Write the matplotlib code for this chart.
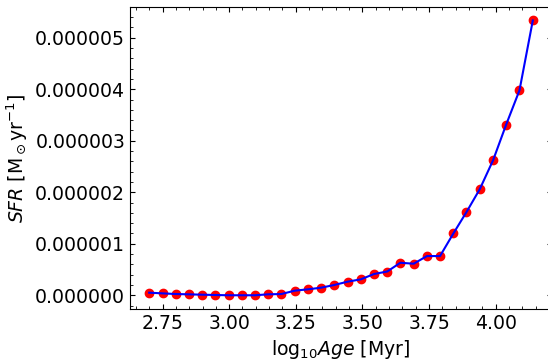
import matplotlib
matplotlib.use('Agg')
import matplotlib.pyplot as plt
from matplotlib.ticker import FormatStrFormatter, AutoMinorLocator

log_age = [2.700, 2.750, 2.799, 2.849, 2.898, 2.948, 2.998, 3.047, 3.097, 3.146,
           3.196, 3.246, 3.295, 3.345, 3.394, 3.444, 3.494, 3.543, 3.593, 3.642,
           3.692, 3.742, 3.791, 3.841, 3.890, 3.940, 3.990, 4.039, 4.089, 4.139]
sfr_e6 = [0.051, 0.038, 0.025, 0.019, 0.012, 0.006, 0.001, 0.001, 0.001, 0.019,
          0.025, 0.090, 0.116, 0.148, 0.200, 0.264, 0.310, 0.413, 0.462, 0.632,
          0.613, 0.762, 0.762, 1.201, 1.614, 2.060, 2.622, 3.313, 3.979, 5.335]
sfr = [v * 1e-6 for v in sfr_e6]

fig = plt.figure(figsize=(5.48, 3.62), dpi=100)
ax = fig.add_axes([130/548, 1 - 309/362, 422/548, 302.3/362])

ax.scatter(log_age, sfr, color='red', s=36, zorder=2)
ax.plot(log_age, sfr, color='blue', lw=1.5, zorder=3)

ax.yaxis.set_major_formatter(FormatStrFormatter('%.6f'))
ax.xaxis.set_minor_locator(AutoMinorLocator(5))
ax.yaxis.set_minor_locator(AutoMinorLocator(5))
ax.tick_params(which='both', direction='in', top=True, right=True, labelsize=13.6)

ax.set_xlabel(r'log$_{10}Age$ [Myr]', fontsize=13.6)
ax.set_ylabel(r'$SFR$ [M$_\odot$yr$^{-1}$]', fontsize=13.6)

fig.savefig('out.png', dpi=100)
